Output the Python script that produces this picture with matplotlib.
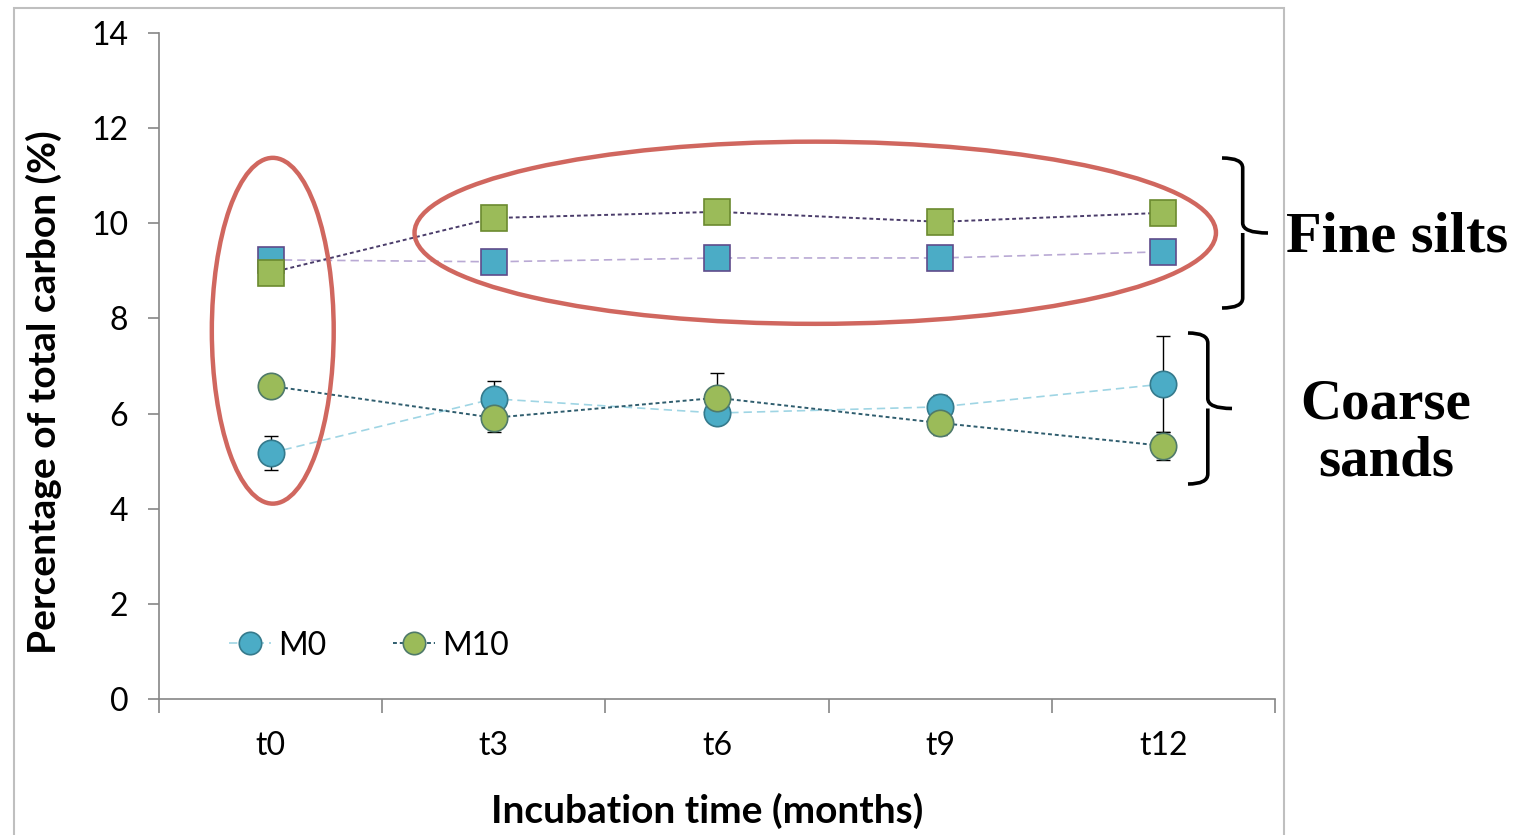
import matplotlib as mpl
mpl.use('Agg')
import matplotlib.pyplot as plt
import numpy as np
from matplotlib.patches import Ellipse, Rectangle, PathPatch
from matplotlib.path import Path

mpl.rc('font', family='Lato', size=23)

# data
times = ['t0', 't3', 't6', 't9', 't12']
sand_m0 = [5.17, 6.31, 6.01, 6.14, 6.62]
sand_m0_err = [0.35, 0.37, 0.2, 0.25, 1.0]
sand_m10 = [6.58, 5.91, 6.33, 5.80, 5.32]
sand_m10_err = [0.1, 0.3, 0.52, 0.25, 0.3]
silt_m0 = [9.23, 9.19, 9.27, 9.27, 9.40]
silt_m10 = [8.96, 10.11, 10.24, 10.03, 10.22]

BLUE = '#4bacc6'
GREEN = '#9bbb59'
RED = '#d0675f'


def brace(fig, x0, y_top, y_bot, width):
    """Right-pointing curly brace in figure pixel coords (origin top-left)"""
    W, H = fig.get_size_inches() * fig.dpi
    xm = x0 + width * 0.45
    xt = x0 + width
    ym = (y_top + y_bot) / 2.
    r = 10
    pts = [(x0, y_top), (xm, y_top), (xm, y_top + r), (xm, ym - r),
           (xm, ym), (xt, ym),
           (xm, ym), (xm, ym + r), (xm, y_bot - r), (xm, y_bot), (x0, y_bot)]
    codes = [Path.MOVETO, Path.CURVE3, Path.CURVE3, Path.LINETO,
             Path.CURVE3, Path.CURVE3,
             Path.MOVETO, Path.CURVE3, Path.LINETO, Path.CURVE3, Path.CURVE3]
    verts = [(x / W, 1 - y / H) for x, y in pts]
    patch = PathPatch(Path(verts, codes), transform=fig.transFigure,
                      fill=False, lw=2.6, color='black', capstyle='butt')
    fig.patches.append(patch)


def main():
    fig = plt.figure(figsize=(15.28, 8.35), dpi=100)
    ax = fig.add_axes([0.104, 0.163, 0.7305, 0.7975])
    x = np.arange(len(times))

    # chart border
    fig.patches.append(Rectangle((14 / 1528., -0.01), 1270 / 1528., 1 - 8 / 835. + 0.01,
                                 transform=fig.transFigure, fill=False,
                                 ec='#bfbfbf', lw=1.5))

    # fine silts (squares)
    ax.plot(x, silt_m0, ls=(0, (5, 3)), lw=1.2, color='#b9a9d4', marker='s',
            ms=18.5, mfc=BLUE, mec='#5f4b8b', mew=1.2, zorder=3)
    ax.plot(x, silt_m10, ls=(0, (2, 1.5)), lw=1.4, color='#4a3c6a', marker='s',
            ms=18.5, mfc=GREEN, mec='#6b8a2f', mew=1.2, zorder=4)

    # coarse sands (circles)
    ax.errorbar(x, sand_m0, yerr=sand_m0_err, fmt='none', ecolor='black',
                elinewidth=1, capsize=5, zorder=2)
    ax.errorbar(x, sand_m10, yerr=sand_m10_err, fmt='none', ecolor='black',
                elinewidth=1, capsize=5, zorder=2)
    ax.plot(x, sand_m0, ls=(0, (5, 3)), lw=1.2, color='#9fd5e4', marker='o',
            ms=19, mfc=BLUE, mec='#357a8c', mew=1.2, zorder=3, label='M0')
    ax.plot(x, sand_m10, ls=(0, (2, 1.5)), lw=1.4, color='#2f5d6e', marker='o',
            ms=19, mfc=GREEN, mec='#4f7a6a', mew=1.2, zorder=4, label='M10')

    # highlight ellipses
    ax.add_patch(Ellipse((0.01, 7.74), 0.546, 7.27, fill=False, ec=RED, lw=3.2,
                         zorder=5, clip_on=False))
    ax.add_patch(Ellipse((2.44, 9.80), 3.59, 3.83, fill=False, ec=RED, lw=3.2,
                         zorder=5, clip_on=False))

    ax.set_xlim(-0.5, 4.5)
    ax.set_ylim(0, 14)
    ax.set_yticks(np.arange(0, 15, 2))
    ax.set_xticks(np.arange(-0.5, 5, 1))
    ax.set_xticklabels([])
    ax.set_xticks(x, minor=True)
    ax.set_xticklabels(times, minor=True)
    ax.tick_params(axis='x', which='major', length=10, color='#868686', width=1.2)
    ax.tick_params(axis='x', which='minor', length=0, pad=23)
    ax.tick_params(axis='y', length=8, color='#868686', width=1.2, pad=14)
    for s in ['top', 'right']:
        ax.spines[s].set_visible(False)
    for s in ['left', 'bottom']:
        ax.spines[s].set_color('#868686')
        ax.spines[s].set_linewidth(1.2)

    ax.set_ylabel('Percentage of total carbon (%)', fontsize=28, fontweight='bold')
    ax.set_xlabel('Incubation time (months)', fontsize=28, fontweight='bold')
    ax.yaxis.set_label_coords(-0.087, 0.46)
    ax.xaxis.set_label_coords(0.491, -0.141)

    ax.legend(loc='lower left', bbox_to_anchor=(0.043, 0.024), ncol=2, frameon=False,
              fontsize=23, handlelength=1.3, handletextpad=0.22, columnspacing=2.1,
              markerscale=0.85, borderaxespad=0.3)

    # braces and group labels
    brace(fig, 1222, 158, 308, 46)
    brace(fig, 1188, 333, 484, 44)
    fig.text(1397 / 1528., 1 - 238 / 835., 'Fine silts', family='Liberation Serif',
             fontweight='bold', fontsize=42, ha='center', va='center')
    fig.text(1386 / 1528., 1 - 433 / 835., 'Coarse\nsands', family='Liberation Serif',
             fontweight='bold', fontsize=41, ha='center', va='center',
             linespacing=1.12)

    fig.savefig('out.png', dpi=100)


if __name__ == '__main__':
    main()
